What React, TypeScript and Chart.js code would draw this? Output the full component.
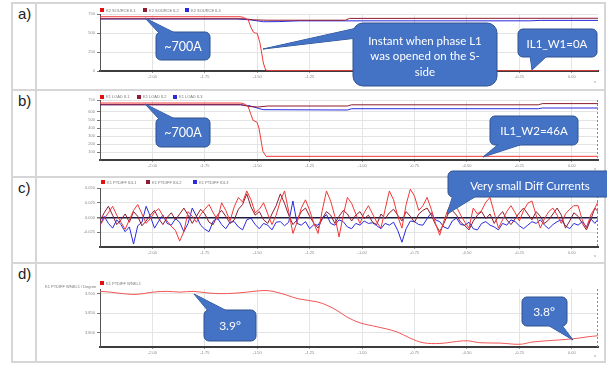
import React, { useEffect, useRef } from 'react';
import { Chart, registerables } from 'chart.js';

Chart.register(...registerables);

// ---------- shared time axis ----------
const X_MIN = -2.25;
const X_MAX = 0.125;
const X_TICKS = [-2.0, -1.75, -1.5, -1.25, -1.0, -0.75, -0.5, -0.25, 0.0];
const X_TICK_LABELS = ['-2.00', '-1.75', '-1.50', '-1.25', '-1.00', '-0.75', '-0.50', '-0.25', '0.00'];
const X_UNIT = 's';

// ---------- panel a: source currents ----------
const A_NAMES = ['K2 SOURCE IL1', 'K2 SOURCE IL2', 'K2 SOURCE IL3'];
const A_T_IL1 = [-2.25, -1.582, -1.565, -1.543, -1.531, -1.519, -1.51, -1.5, -1.487, -1.471, -1.46, -1.445, 0.125];
const A_IL1 = [714, 714, 705, 671, 579, 513, 500, 495, 368, 105, 13, 4, 4];
const A_T_IL2 = [-2.25, -1.56, -1.52, -1.45, -1.08, -1.06, 0.125];
const A_IL2 = [687, 687, 673, 668, 668, 692, 694];
const A_T_IL3 = [-2.25, -1.6, -1.53, -1.47, -1.4, -1.3, -0.2, -0.15, 0.125];
const A_IL3 = [685, 685, 672, 648, 650, 660, 660, 666, 666];
const A_Y_TICKS = [0, 250, 500, 750];
const A_Y_LABELS = ['0', '250', '500', '750'];

// ---------- panel b: load currents ----------
const B_NAMES = ['K1 LOAD IL1', 'K1 LOAD IL2', 'K1 LOAD IL3'];
const B_T_IL1 = [-2.25, -1.582, -1.565, -1.544, -1.53, -1.52, -1.501, -1.492, -1.473, -1.458, 0.125];
const B_IL1 = [712, 712, 705, 671, 567, 496, 471, 400, 108, 46, 46];
const B_T_IL2 = [-2.25, -1.58, -1.54, -1.5, -1.45, -1.07, -1.05, -0.16, -0.14, 0.125];
const B_IL2 = [691, 691, 670, 662, 675, 675, 690, 690, 705, 705];
const B_T_IL3 = [-2.25, -1.58, -1.54, -1.5, -1.472, -1.07, -1.05, -0.16, -0.14, 0.125];
const B_IL3 = [691, 691, 680, 650, 629, 625, 641, 641, 650, 650];
const B_Y_TICKS = [100, 200, 300, 400, 500, 600, 750];
const B_Y_LABELS = ['100', '200', '300', '400', '500', '600', '750'];

// ---------- panel c: differential currents ----------
const C_NAMES = ['K1 PTDIFF IDL1', 'K1 PTDIFF IDL2', 'K1 PTDIFF IDL3'];
const C_START = -2.25;
const C_STEP = 0.02;
const C_IDL1 = [
  -0.013, -0.002, 0.008, 0.019, 0.004, -0.008, -0.02, -0.004, 0.012, 0.022,
  0.006, -0.01, -0.002, 0.009, 0.015, 0.003, -0.006, -0.015, -0.022, -0.04,
  -0.024, 0.01, 0.002, -0.008, 0.005, 0.014, 0.022, 0.008, -0.004, 0.025,
  0.012, -0.006, 0.018, 0.034, 0.026, 0.045, 0.03, 0.008, 0.014, 0.025,
  0.006, -0.012, 0.004, 0.028, 0.045, 0.01, -0.027, -0.008, 0.016, 0.03,
  0.012, -0.01, -0.027, 0.012, 0.045, 0.028, 0.002, -0.033, 0.004, 0.034,
  0.024, 0.006, -0.01, 0.008, 0.02, 0.006, -0.008, -0.018, 0.014, 0.045,
  0.03, 0.002, -0.018, 0.022, 0.048, 0.036, 0.012, 0.02, 0.034, 0.014,
  -0.01, -0.03, -0.006, 0.014, 0.028, 0.018, 0.004, -0.008, -0.018, 0.016,
  0.006, 0.012, 0.026, 0.034, 0.008, -0.018, -0.004, 0.01, 0.02, 0.008,
  -0.006, 0.012, 0.024, 0.028, 0.004, -0.018, -0.002, 0.01, 0.016, 0.004,
  -0.01, 0.006, 0.014, 0.02, 0.02, -0.004, -0.018, 0.004, 0.016, 0.03,
];
const C_IDL2 = [
  -0.006, 0.008, 0.019, 0.004, -0.012, -0.004, 0.006, -0.008, 0.01, 0.002,
  -0.014, -0.006, 0.004, 0.012, -0.002, -0.012, 0.0, 0.008, -0.004, 0.006,
  0.016, 0.004, -0.01, 0.002, 0.014, 0.006, -0.008, -0.012, 0.004, 0.012,
  0.002, -0.01, -0.004, 0.014, 0.022, 0.04, 0.018, 0.004, 0.01, -0.004,
  -0.01, 0.006, 0.02, 0.04, 0.024, 0.004, -0.012, -0.004, 0.01, 0.016,
  0.002, -0.01, -0.018, -0.002, 0.01, 0.004, -0.01, 0.002, 0.012, 0.006,
  -0.006, 0.004, 0.01, -0.002, 0.004, -0.008, -0.012, 0.006, -0.002, 0.008,
  0.014, 0.004, -0.006, 0.01, 0.002, -0.008, 0.006, 0.012, 0.016, 0.004,
  -0.012, -0.024, -0.01, 0.006, 0.012, 0.004, -0.008, -0.014, -0.021, -0.006,
  0.004, 0.01, -0.002, 0.006, -0.01, 0.002, 0.01, -0.004, -0.012, -0.002,
  0.008, 0.016, 0.006, -0.004, 0.01, 0.002, -0.01, -0.004, 0.006, 0.016,
  0.004, -0.018, -0.006, 0.008, 0.002, -0.01, -0.021, -0.004, 0.016, 0.008,
];
const C_IDL3 = [
  -0.013, 0.002, -0.01, -0.018, -0.004, -0.012, -0.024, -0.016, -0.045, -0.014,
  -0.008, 0.019, 0.002, -0.018, -0.006, 0.004, -0.01, -0.013, -0.002, -0.008,
  -0.024, -0.01, 0.016, 0.002, -0.013, -0.02, -0.024, -0.006, -0.001, -0.012,
  -0.019, -0.008, -0.007, -0.016, -0.021, -0.004, -0.001, -0.012, -0.019, -0.01,
  -0.013, -0.021, -0.008, -0.007, -0.014, -0.008, 0.028, -0.01, -0.013, -0.007,
  -0.019, -0.012, -0.013, -0.002, 0.005, -0.01, -0.013, -0.004, -0.007, -0.016,
  -0.019, -0.01, -0.013, -0.006, -0.01, -0.009, -0.014, -0.019, -0.01, -0.013,
  -0.008, -0.022, -0.042, -0.019, -0.006, -0.007, -0.012, -0.013, -0.002, 0.008,
  -0.004, -0.007, -0.016, -0.019, -0.006, -0.001, -0.012, -0.013, -0.008, -0.019,
  -0.021, -0.01, -0.007, -0.013, -0.016, -0.021, -0.01, -0.013, -0.004, -0.007,
  -0.014, -0.019, -0.013, -0.007, -0.01, -0.004, -0.013, -0.019, -0.012, -0.007,
  -0.004, -0.014, -0.019, -0.01, -0.013, -0.007, -0.016, -0.002, -0.01, -0.001,
];
const C_Y_TICKS = [-0.025, 0, 0.025, 0.05];
const C_Y_LABELS = ['-0.025', '0.000', '0.025', '0.050'];

// ---------- panel d: angle ----------
const D_NAME = 'K1 PTDIFF WNKL1';
const D_AXIS_TITLE = 'K1 PTDIFF WNKL1 / Degree';
const D_T = [
  -2.25, -2.202, -2.155, -2.093, -2.045, -1.997, -1.93, -1.868, -1.806, -1.74,
  -1.678, -1.616, -1.549, -1.473, -1.425, -1.358, -1.306, -1.215, -1.167, -1.12,
  -1.072, -1.01, -0.929, -0.834, -0.772, -0.71, -0.629, -0.567, -0.5, -0.438,
  -0.342, -0.247, -0.185, -0.09, 0.006, 0.073, 0.125,
];
const D_ANGLE = [
  3.906, 3.904, 3.901, 3.898, 3.9, 3.904, 3.906, 3.904, 3.906, 3.902,
  3.9, 3.901, 3.904, 3.908, 3.906, 3.896, 3.887, 3.879, 3.87, 3.857,
  3.84, 3.825, 3.815, 3.802, 3.786, 3.774, 3.772, 3.776, 3.779, 3.774,
  3.773, 3.77, 3.776, 3.78, 3.784, 3.789, 3.792,
];
const D_Y_TICKS = [3.8, 3.85, 3.9];
const D_Y_LABELS = ['3.800', '3.850', '3.900'];

// ---------- styling ----------
const RED = '#f03838';
const DARK_RED = '#8e1b2e';
const BLUE = '#2a2ae0';
const ANGLE_RED = '#f25656';
const CALLOUT_FILL = '#4472c4';
const CALLOUT_STROKE = '#2f528f';
const TICK_FONT = { size: 4, family: 'Liberation Sans' };

const pts = (xs: number[], ys: number[]) => xs.map((x, i) => ({ x, y: ys[i] }));

const cursorPlugin = {
  id: 'cursorLine',
  afterDatasetsDraw(chart: any) {
    const { ctx, chartArea } = chart;
    ctx.save();
    ctx.strokeStyle = '#48b848';
    ctx.lineWidth = 1;
    ctx.setLineDash([2, 2]);
    ctx.beginPath();
    ctx.moveTo(chartArea.right - 0.5, chartArea.top);
    ctx.lineTo(chartArea.right - 0.5, chartArea.bottom);
    ctx.stroke();
    ctx.restore();
  },
};

type PanelProps = {
  top: number;
  height: number;
  padTop: number;
  padBottom: number;
  datasets: any[];
  yMin: number;
  yMax: number;
  yTicks: number[];
  yLabels: string[];
  zeroLine?: boolean;
  cursor?: boolean;
};

function Panel(p: PanelProps) {
  const ref = useRef<HTMLCanvasElement>(null);
  useEffect(() => {
    const chart = new Chart(ref.current as HTMLCanvasElement, {
      type: 'line',
      data: { datasets: p.datasets },
      options: {
        responsive: false,
        animation: false,
        layout: { padding: { left: 44, right: 8, top: p.padTop, bottom: p.padBottom } },
        plugins: { legend: { display: false }, tooltip: { enabled: false } },
        elements: { point: { radius: 0 }, line: { borderWidth: 1 } },
        scales: {
          x: {
            type: 'linear',
            min: X_MIN,
            max: X_MAX,
            afterBuildTicks: (s: any) => {
              s.ticks = X_TICKS.map((v) => ({ value: v }));
            },
            afterFit: (s: any) => {
              s.height = 14;
            },
            ticks: {
              autoSkip: false,
              maxRotation: 0,
              padding: 1.5,
              color: '#8a8a8a',
              font: TICK_FONT,
              callback: (_v: any, i: number) => X_TICK_LABELS[i],
            },
            grid: { color: '#e4e4e4', tickLength: 2, tickColor: '#999' },
            border: { color: '#3c3c3c', width: 2 },
          },
          y: {
            type: 'linear',
            min: p.yMin,
            max: p.yMax,
            afterBuildTicks: (s: any) => {
              s.ticks = p.yTicks.map((v) => ({ value: v }));
            },
            afterFit: (s: any) => {
              s.width = 20;
            },
            ticks: {
              autoSkip: false,
              padding: 2,
              color: '#8a8a8a',
              font: TICK_FONT,
              callback: (_v: any, i: number) => p.yLabels[i],
            },
            grid: {
              color: (ctx: any) => (p.zeroLine && ctx.tick && ctx.tick.value === 0 ? '#1c1c40' : '#e4e4e4'),
              lineWidth: (ctx: any) => (p.zeroLine && ctx.tick && ctx.tick.value === 0 ? 1.5 : 1),
              tickLength: 3,
              tickColor: '#777',
            },
            border: { color: '#555', width: 1 },
          },
        },
      } as any,
      plugins: p.cursor ? [cursorPlugin] : [],
    });
    return () => chart.destroy();
  }, []);
  return (
    <canvas
      ref={ref}
      width={570}
      height={p.height}
      style={{ position: 'absolute', left: 36, top: p.top, width: 570, height: p.height }}
    />
  );
}

function Legend({ x, y, items }: { x: number[]; y: number; items: { name: string; color: string }[] }) {
  return (
    <>
      {items.map((it, i) => (
        <div
          key={i}
          style={{ position: 'absolute', left: x[i], top: y - 2.5, height: 5, display: 'flex', alignItems: 'center', whiteSpace: 'nowrap' }}
        >
          <div style={{ width: 4, height: 4, background: it.color, marginRight: 2 }} />
          <span style={{ fontFamily: 'Liberation Sans', fontSize: 4, lineHeight: '5px', color: '#777' }}>{it.name}</span>
        </div>
      ))}
    </>
  );
}

type Callout = {
  box: [number, number, number, number];
  r: number;
  tail: [number, number][];
  lines: string[];
  cx: number;
  ys: number[];
  size: number;
};

const CALLOUTS: Callout[] = [
  { box: [156, 32, 54, 28], r: 5, tail: [[160, 34], [177, 34], [145, 18]], lines: ['~700A'], cx: 183, ys: [46], size: 12.5 },
  {
    box: [353, 23, 144, 63], r: 10, tail: [[357, 28], [357, 38], [263, 49]],
    lines: ['Instant when phase L1', 'was opened on the S-', 'side'], cx: 425, ys: [40, 55, 71], size: 11.5,
  },
  { box: [518, 29, 79, 28], r: 5, tail: [[530, 55], [548, 55], [532, 70]], lines: ['IL1_W1=0A'], cx: 557, ys: [43], size: 11.5 },
  { box: [156, 118, 54, 29], r: 5, tail: [[160, 120], [177, 120], [145, 104]], lines: ['~700A'], cx: 183, ys: [132], size: 12.5 },
  { box: [490, 116, 88, 29], r: 5, tail: [[500, 143], [526, 143], [483, 157]], lines: ['IL1_W2=46A'], cx: 534, ys: [130], size: 11.5 },
  { box: [448, 171, 170, 26], r: 5, tail: [[453, 195], [478, 195], [447, 214]], lines: ['Very small Diff Currents'], cx: 530, ys: [185], size: 11.5 },
  { box: [204, 310, 52, 31], r: 5, tail: [[209, 312], [229, 312], [194, 294]], lines: ['3.9°'], cx: 230, ys: [325], size: 12 },
  { box: [522, 297, 45, 29], r: 5, tail: [[546, 324], [561, 324], [573, 340]], lines: ['3.8°'], cx: 544, ys: [311], size: 12 },
];

const BORDER = '#d6d6d6';

export default function App() {
  const aSets = [
    { label: A_NAMES[0], data: pts(A_T_IL1, A_IL1), borderColor: RED },
    { label: A_NAMES[1], data: pts(A_T_IL2, A_IL2), borderColor: DARK_RED },
    { label: A_NAMES[2], data: pts(A_T_IL3, A_IL3), borderColor: BLUE },
  ];
  const bSets = [
    { label: B_NAMES[0], data: pts(B_T_IL1, B_IL1), borderColor: RED },
    { label: B_NAMES[1], data: pts(B_T_IL2, B_IL2), borderColor: DARK_RED },
    { label: B_NAMES[2], data: pts(B_T_IL3, B_IL3), borderColor: BLUE },
  ];
  const cTime = C_IDL1.map((_, i) => C_START + i * C_STEP);
  const cSets = [
    { label: C_NAMES[0], data: pts(cTime, C_IDL1), borderColor: RED },
    { label: C_NAMES[1], data: pts(cTime, C_IDL2), borderColor: DARK_RED },
    { label: C_NAMES[2], data: pts(cTime, C_IDL3), borderColor: BLUE },
  ];
  const dSets = [{ label: D_NAME, data: pts(D_T, D_ANGLE), borderColor: ANGLE_RED, tension: 0.35 }];

  const hLine = (y: number) => (
    <div style={{ position: 'absolute', left: 12, top: y, width: 594, height: 2, background: BORDER }} />
  );
  const label = (t: string, y: number) => (
    <div style={{ position: 'absolute', left: 18, top: y - 8, fontFamily: 'Liberation Sans', fontSize: 15, lineHeight: '16px', color: '#222' }}>
      {t}
    </div>
  );
  const unit = (y: number) => (
    <div style={{ position: 'absolute', left: 594, top: y - 2, fontFamily: 'Liberation Sans', fontSize: 4, lineHeight: '4px', color: '#888' }}>
      {X_UNIT}
    </div>
  );

  return (
    <div style={{ position: 'absolute', left: 0, top: 0, width: 607, height: 366, background: '#fff', overflow: 'hidden' }}>
      {hLine(2)}
      {hLine(88.5)}
      {hLine(176)}
      {hLine(262)}
      {hLine(361)}
      <div style={{ position: 'absolute', left: 11, top: 2, width: 2, height: 361, background: BORDER }} />
      <div style={{ position: 'absolute', left: 35, top: 2, width: 2, height: 361, background: BORDER }} />
      <div style={{ position: 'absolute', left: 604, top: 2, width: 2, height: 361, background: BORDER }} />
      {label('a)', 14)}
      {label('b)', 101)}
      {label('c)', 188)}
      {label('d)', 274)}

      <Panel top={4} height={84} padTop={10} padBottom={3} datasets={aSets} yMin={0} yMax={750} yTicks={A_Y_TICKS} yLabels={A_Y_LABELS} />
      <Panel top={91} height={85} padTop={9} padBottom={2} datasets={bSets} yMin={0} yMax={750} yTicks={B_Y_TICKS} yLabels={B_Y_LABELS} cursor />
      <Panel top={178} height={84} padTop={10} padBottom={1} datasets={cSets} yMin={-0.05} yMax={0.05} yTicks={C_Y_TICKS} yLabels={C_Y_LABELS} zeroLine cursor />
      <Panel top={264} height={97} padTop={25} padBottom={0} datasets={dSets} yMin={3.763} yMax={3.912} yTicks={D_Y_TICKS} yLabels={D_Y_LABELS} cursor />

      <Legend x={[100, 143, 185]} y={10} items={[{ name: A_NAMES[0], color: '#e41010' }, { name: A_NAMES[1], color: DARK_RED }, { name: A_NAMES[2], color: BLUE }]} />
      <Legend x={[100, 137, 173]} y={96.5} items={[{ name: B_NAMES[0], color: '#e41010' }, { name: B_NAMES[1], color: DARK_RED }, { name: B_NAMES[2], color: BLUE }]} />
      <Legend x={[101, 146, 193]} y={182} items={[{ name: C_NAMES[0], color: '#e41010' }, { name: C_NAMES[1], color: DARK_RED }, { name: C_NAMES[2], color: BLUE }]} />
      <Legend x={[100]} y={283} items={[{ name: D_NAME, color: '#e41010' }]} />
      <div style={{ position: 'absolute', left: 45, top: 285, fontFamily: 'Liberation Sans', fontSize: 4, lineHeight: '4px', color: '#777', whiteSpace: 'nowrap' }}>
        {D_AXIS_TITLE}
      </div>
      {unit(82)}
      {unit(169)}
      {unit(256)}
      {unit(356)}

      <svg width={607} height={366} style={{ position: 'absolute', left: 0, top: 0 }}>
        {CALLOUTS.map((c, i) => {
          const tp = c.tail.map((q) => q.join(',')).join(' ');
          return (
            <g key={i}>
              <polygon points={tp} fill={CALLOUT_FILL} stroke={CALLOUT_STROKE} strokeWidth={1} strokeLinejoin="round" />
              <rect x={c.box[0]} y={c.box[1]} width={c.box[2]} height={c.box[3]} rx={c.r} ry={c.r} fill={CALLOUT_FILL} stroke={CALLOUT_STROKE} strokeWidth={1} />
              <polygon points={tp} fill={CALLOUT_FILL} />
              {c.lines.map((t, j) => (
                <text key={j} x={c.cx} y={c.ys[j]} textAnchor="middle" dominantBaseline="central" fill="#fff" fontFamily="Lato" fontSize={c.size}>
                  {t}
                </text>
              ))}
            </g>
          );
        })}
      </svg>
    </div>
  );
}
